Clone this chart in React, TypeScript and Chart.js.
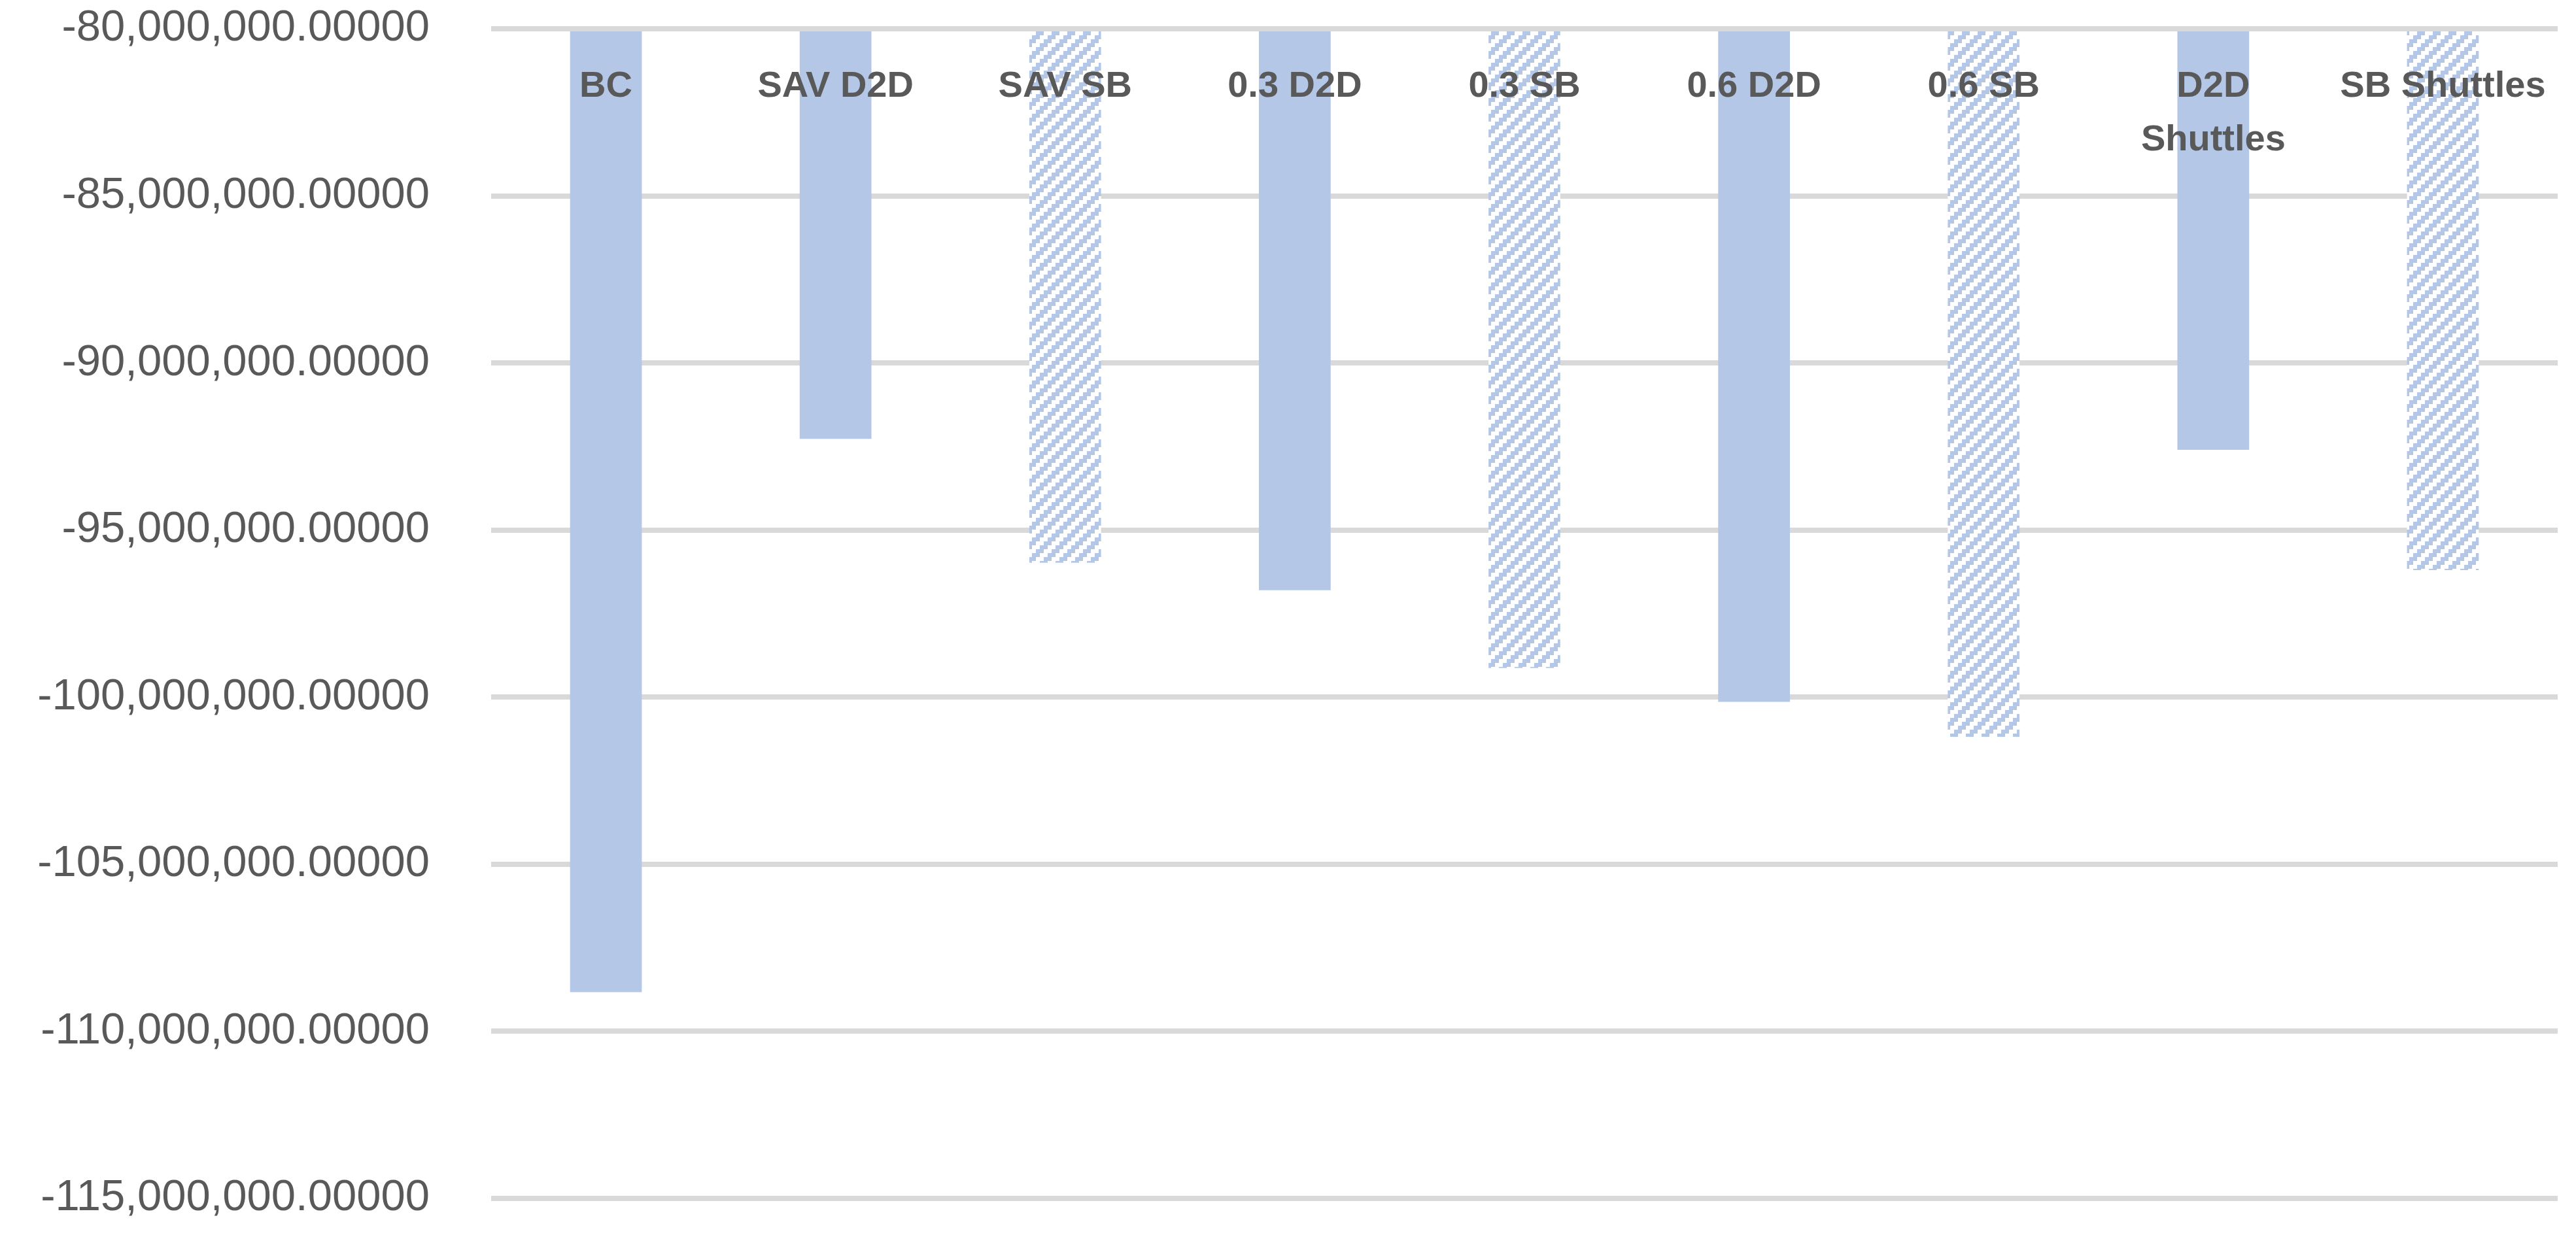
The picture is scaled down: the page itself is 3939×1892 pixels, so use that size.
import React, { useEffect, useRef } from "react";
import { Chart, registerables } from "chart.js";

Chart.register(...registerables);

const categories: (string | string[])[] = [
  "BC",
  "SAV D2D",
  "SAV SB",
  "0.3 D2D",
  "0.3 SB",
  "0.6 D2D",
  "0.6 SB",
  ["D2D", "Shuttles"],
  "SB Shuttles",
];
const values: number[] = [
  -108830000, -92270000, -95980000, -96800000, -99130000, -100140000, -101190000, -92600000, -96200000,
];
const hatched: boolean[] = [false, false, true, false, true, false, true, false, true];
const yMin = -115000000;
const yMax = -80000000;
const yStep = 5000000;

const BAR_COLOR = "#B4C7E7";
const TEXT_COLOR = "#595959";

function makeHatch(color: string): CanvasPattern | string {
  const cell = 6;
  const n = 4;
  const c = document.createElement("canvas");
  c.width = cell * n;
  c.height = cell * n;
  const ctx = c.getContext("2d");
  if (!ctx) return color;
  ctx.fillStyle = "#ffffff";
  ctx.fillRect(0, 0, c.width, c.height);
  ctx.fillStyle = color;
  for (let i = 0; i < n; i++) {
    for (let j = 0; j < n; j++) {
      if ((i + j) % n < n / 2) ctx.fillRect(i * cell, j * cell, cell, cell);
    }
  }
  return ctx.createPattern(c, "repeat") || color;
}

export default function App() {
  const ref = useRef<HTMLCanvasElement>(null);
  useEffect(() => {
    if (!ref.current) return;
    Chart.defaults.font.family = "'Liberation Sans', Arial, sans-serif";
    const hatch = makeHatch(BAR_COLOR);
    const chart = new Chart(ref.current, {
      type: "bar",
      data: {
        labels: categories,
        datasets: [
          {
            data: values,
            backgroundColor: hatched.map((h) => (h ? hatch : BAR_COLOR)) as any,
            base: yMax,
            barPercentage: 0.3125,
            categoryPercentage: 1,
            borderWidth: 0,
          } as any,
        ],
      },
      options: {
        animation: false,
        responsive: false,
        maintainAspectRatio: false,
        layout: { padding: { top: 44, bottom: 59, left: 0, right: 28 } },
        plugins: { legend: { display: false }, tooltip: { enabled: false } },
        scales: {
          x: {
            position: { y: yMax } as any,
            grid: { display: false },
            border: { display: false },
            ticks: {
              z: 1,
              font: { size: 56, weight: "bold", lineHeight: 1.464 },
              color: TEXT_COLOR,
              padding: 40,
              maxRotation: 0,
              minRotation: 0,
              autoSkip: false,
            },
            afterFit: (s: any) => {
              s.paddingLeft = 0;
              s.paddingRight = 0;
              s.paddingTop = 0;
              s.paddingBottom = 0;
            },
          },
          y: {
            min: yMin,
            max: yMax,
            grid: { color: "#D9D9D9", lineWidth: 8, drawTicks: false },
            border: { display: false },
            ticks: {
              stepSize: yStep,
              padding: 94,
              font: { size: 67 },
              color: TEXT_COLOR,
              callback: (v: any) =>
                Number(v).toLocaleString("en-US", { minimumFractionDigits: 5, maximumFractionDigits: 5 }),
            },
            afterFit: (s: any) => {
              s.width = 751;
              s.paddingTop = 0;
              s.paddingBottom = 0;
            },
          },
        },
      } as any,
    });
    return () => chart.destroy();
  }, []);
  return (
    <div style={{ position: "fixed", left: 0, top: 0, width: 3939, height: 1892, background: "#fff" }}>
      <canvas ref={ref} width={3939} height={1892} style={{ width: 3939, height: 1892, display: "block" }} />
    </div>
  );
}
